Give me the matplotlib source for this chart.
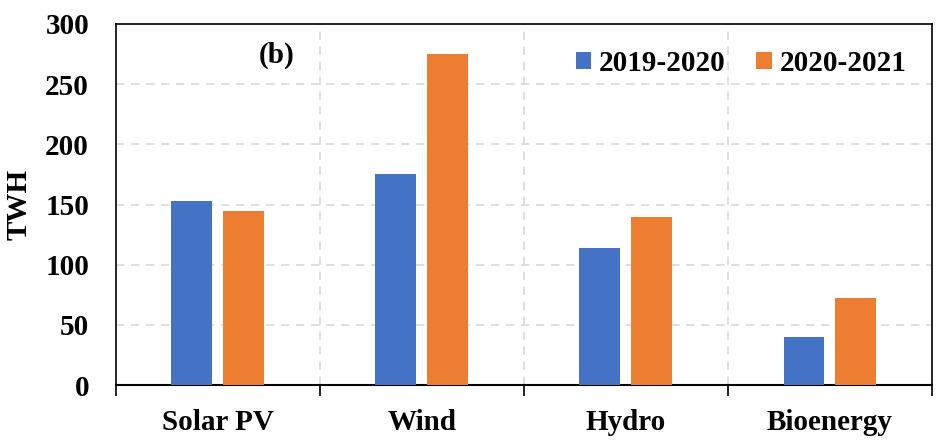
import matplotlib
matplotlib.use("Agg")
import matplotlib.pyplot as plt
import numpy as np

categories = ["Solar PV", "Wind", "Hydro", "Bioenergy"]
series_names = ["2019-2020", "2020-2021"]
values_2019_2020 = [153, 175, 114, 40]
values_2020_2021 = [145, 275, 140, 72]
colors = ["#4472C4", "#ED7D31"]

plt.rcParams['font.family'] = ['Liberation Serif', 'DejaVu Serif']
plt.rcParams['font.weight'] = 'bold'

fig = plt.figure(figsize=(9.44, 4.46), dpi=100)
ax = fig.add_axes([115.5/944, 1 - 385/446, (932 - 115.5)/944, (385 - 24)/446])

x = np.arange(len(categories))
w = 0.2
off = 0.127
ax.bar(x - off, values_2019_2020, w, color=colors[0], label=series_names[0], zorder=3)
ax.bar(x + off, values_2020_2021, w, color=colors[1], label=series_names[1], zorder=3)

ax.set_xlim(-0.5, 3.5)
ax.set_ylim(0, 300)
ax.set_yticks(np.arange(0, 301, 50))
ax.set_xticks(np.arange(-0.5, 3.6, 1.0))
ax.set_xticklabels([])
ax.set_xticks(x, minor=True)
ax.set_xticklabels(categories, minor=True, fontsize=21, fontweight='bold')
ax.tick_params(axis='x', which='major', direction='out', length=8, width=1.2, color='black')
ax.tick_params(axis='x', which='minor', length=0, pad=17)
ax.tick_params(axis='y', length=0, pad=19, labelsize=21)
for lab in ax.get_yticklabels():
    lab.set_fontweight('bold')

for yv in range(50, 300, 50):
    ax.axhline(yv, color='#d9d9d9', linestyle=(0, (5, 4)), linewidth=1.2, zorder=1)
for xv in [0.5, 1.5, 2.5]:
    ax.axvline(xv, color='#d9d9d9', linestyle=(0, (5, 4)), linewidth=1.2, zorder=1)

for s in ax.spines.values():
    s.set_color('black')
    s.set_linewidth(1.2)
ax.spines['bottom'].set_linewidth(1.5)

ax.set_ylabel("TWH", fontsize=21, fontweight='bold', labelpad=9)

ax.text(277, 446 - 55, "(b)", transform=None, fontsize=21, fontweight='bold',
        ha='center', va='center')

leg = ax.legend(loc='upper right', bbox_to_anchor=(1.0, 1.0), frameon=False,
                ncol=2, fontsize=21, handlelength=0.52, handleheight=0.52,
                handletextpad=0.27, columnspacing=1.05, borderaxespad=0.48)
for t in leg.get_texts():
    t.set_fontweight('bold')

fig.savefig("out.png", dpi=100)
